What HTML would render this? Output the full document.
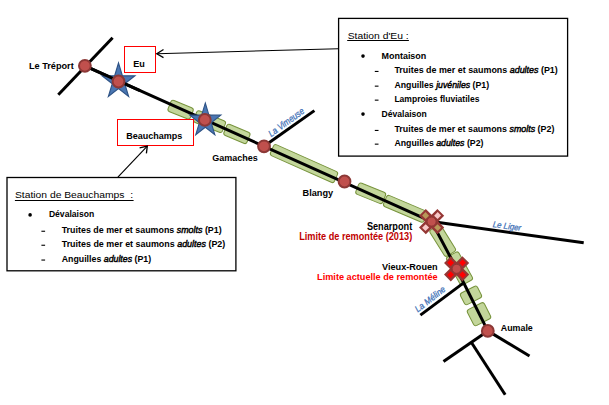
<!DOCTYPE html>
<html><head><meta charset="utf-8">
<style>
html,body{margin:0;padding:0;background:#fff;width:609px;height:405px;overflow:hidden}
svg{display:block}
.lb{font-family:"Liberation Sans",sans-serif;font-weight:bold;font-size:9.7px;fill:#000}
.it{font-family:"Liberation Sans",sans-serif;font-size:9.2px;font-weight:bold;fill:#000}
.tt{font-family:"Liberation Sans",sans-serif;font-size:9.7px;fill:#000}
.rv{font-family:"Liberation Sans",sans-serif;font-style:italic;font-size:9.4px;fill:#3d6fb6;stroke:#3d6fb6;stroke-width:0.25}
.seg{fill:#c3d69b;stroke:#77933c;stroke-width:1}
.nd{fill:#c0504d;stroke:#8c3836;stroke-width:2}
.st{fill:#4a76b2;stroke:#2e5386;stroke-width:1.2}
</style></head>
<body>
<svg width="609" height="405" viewBox="0 0 609 405">
<!-- green segments -->
<g>
  <rect class="seg" x="-12" y="-6" width="24" height="12" rx="2.5" transform="translate(180.6 109.7) rotate(22)"/>
  <rect class="seg" x="-15" y="-6.25" width="31" height="12.5" rx="2.5" transform="translate(209.1 121.4) rotate(22)"/>
  <rect class="seg" x="-12.5" y="-6" width="25" height="12" rx="2.5" transform="translate(236.9 133.9) rotate(23)"/>
  <rect class="seg" x="-35" y="-6" width="70" height="12" rx="2.5" transform="translate(304 163.6) rotate(24)"/>
  <rect class="seg" x="-14.5" y="-6" width="29" height="12" rx="2.5" transform="translate(370.7 193.3) rotate(22)"/>
  <rect class="seg" x="-22" y="-6" width="44" height="12" rx="2.5" transform="translate(405.3 208.8) rotate(23)"/>
  <rect class="seg" x="-15.5" y="-6.5" width="31" height="13" rx="2.5" transform="translate(442.7 240.6) rotate(58)"/>
  <rect class="seg" x="-16" y="-7" width="32" height="14" rx="2.5" transform="translate(459.5 268.5) rotate(61)"/>
  <rect class="seg" x="-6.5" y="-9.5" width="13" height="19" rx="2.5" transform="translate(471 295.4) rotate(63)"/>
  <rect class="seg" x="-9" y="-9.5" width="18" height="19" rx="2.5" transform="translate(479 314.2) rotate(63)"/>
</g>
<!-- tributaries -->
<g stroke="#000" stroke-width="3" stroke-linecap="butt" fill="none">
  <line x1="58.3" y1="94.8" x2="112.6" y2="37.8"/>
  <line x1="264" y1="146.3" x2="314.4" y2="110.6"/>
  <line x1="431.6" y1="221.6" x2="583.7" y2="242.8"/>
  <line x1="464.3" y1="282.4" x2="420.4" y2="315.1"/>
  <line x1="487.8" y1="330.9" x2="529.5" y2="356"/>
  <line x1="487.8" y1="330.9" x2="443.5" y2="361.5"/>
  <line x1="471.6" y1="342.7" x2="505.2" y2="394.7"/>
</g>
<!-- main river -->
<polyline points="84.9,65.8 431.6,221.6 456.6,268.8 487.8,330.9" fill="none" stroke="#000" stroke-width="3"/>
<!-- stars -->
<polygon class="st" id="star" points="0,-18.5 4.15,-5.71 17.59,-5.71 6.72,2.18 10.87,14.97 0,7.06 -10.87,14.97 -6.72,2.18 -17.59,-5.71 -4.15,-5.71" transform="translate(118.5 81.5) scale(0.93 1)"/>
<polygon class="st" points="0,-18.5 4.15,-5.71 17.59,-5.71 6.72,2.18 10.87,14.97 0,7.06 -10.87,14.97 -6.72,2.18 -17.59,-5.71 -4.15,-5.71" transform="translate(205.3 120.6) scale(0.88 0.95)"/>
<line x1="84.9" y1="65.8" x2="140" y2="90.6" stroke="#000" stroke-width="3"/>
<!-- nodes -->
<circle class="nd" cx="84.9" cy="65.8" r="5.9"/>
<circle class="nd" cx="118.5" cy="81.5" r="5.9"/>
<circle class="nd" cx="204.8" cy="119.9" r="5.9"/>
<circle class="nd" cx="264" cy="146.3" r="5.9"/>
<circle class="nd" cx="344.5" cy="181.5" r="5.9"/>
<circle class="nd" cx="487.8" cy="330.9" r="5.9"/>
<!-- crosses -->
<g transform="translate(431.6 221.6) rotate(45)">
  <path d="M-4.8,-13 H4.8 V-4.8 H13 V4.8 H4.8 V13 H-4.8 V4.8 H-13 V-4.8 H-4.8 Z" fill="#953735"/>
  <rect x="-2.4" y="-11" width="4.8" height="5" fill="#f8c8c8"/>
  <rect x="-2.4" y="6" width="4.8" height="5" fill="#f8c8c8"/>
  <rect x="-11" y="-2.4" width="5" height="4.8" fill="#b89858"/>
  <rect x="6" y="-2.4" width="5" height="4.8" fill="#b89858"/>
  <circle r="4.5" fill="#c0504d" stroke="#8a3432" stroke-width="0.8"/>
</g>
<g transform="translate(456.6 268.8) rotate(45)">
  <path d="M-4.8,-13 H4.8 V-4.8 H13 V4.8 H4.8 V13 H-4.8 V4.8 H-13 V-4.8 H-4.8 Z" fill="#953735"/>
  <rect x="-2.4" y="-11" width="4.8" height="5" fill="#ff0000"/>
  <rect x="-2.4" y="6" width="4.8" height="5" fill="#ff0000"/>
  <rect x="-11" y="-2.4" width="5" height="4.8" fill="#ff0000"/>
  <rect x="6" y="-2.4" width="5" height="4.8" fill="#ff0000"/>
  <circle r="4.5" fill="#c0504d" stroke="#8a3432" stroke-width="0.8"/>
</g>
<!-- red label boxes -->
<rect x="124.5" y="46.5" width="31" height="26" fill="#fff" stroke="#ff0000" stroke-width="1"/>
<rect x="117.5" y="119.5" width="76" height="26" fill="none" stroke="#ff0000" stroke-width="1"/>
<!-- arrows -->
<g stroke="#000" stroke-width="1.15" fill="none">
  <line x1="338.3" y1="48.7" x2="156.8" y2="53.7"/>
  <polyline points="163.5,49.5 156.8,53.7 163.5,57.6" stroke-width="1.3"/>
  <line x1="117.9" y1="177.1" x2="147.3" y2="146.2"/>
  <polyline points="139.6,147.9 147.3,146.2 146.4,153.3" stroke-width="1.3"/>
</g>
<!-- info boxes -->
<rect x="338.6" y="18.4" width="229" height="137.7" fill="#fff" stroke="#000" stroke-width="1.3"/>
<rect x="7" y="177.5" width="228.9" height="93.3" fill="#fff" stroke="#000" stroke-width="1.3"/>

<!-- labels -->
<text class="lb" x="28.9" y="68.8" textLength="44.8" lengthAdjust="spacingAndGlyphs">Le Tréport</text>
<text class="lb" x="133.3" y="67" textLength="11.6" lengthAdjust="spacingAndGlyphs">Eu</text>
<text class="lb" x="126.2" y="138.9" textLength="56.1" lengthAdjust="spacingAndGlyphs">Beauchamps</text>
<text class="lb" x="212.3" y="161" textLength="45.5" lengthAdjust="spacingAndGlyphs">Gamaches</text>
<text class="lb" x="302.6" y="196" textLength="30.6" lengthAdjust="spacingAndGlyphs">Blangy</text>
<text class="lb" x="366.9" y="230" textLength="45.3" style="font-size:10.2px" lengthAdjust="spacingAndGlyphs">Senarpont</text>
<text class="lb" x="299.2" y="240" textLength="113" lengthAdjust="spacingAndGlyphs" style="fill:#c00000;font-size:10px">Limite de remontée (2013)</text>
<text class="lb" x="382" y="270.2" textLength="55.7" style="font-size:9.7px" lengthAdjust="spacingAndGlyphs">Vieux-Rouen</text>
<text class="lb" x="317.1" y="280.2" textLength="120.6" lengthAdjust="spacingAndGlyphs" style="fill:#ff0000;font-size:9.7px">Limite actuelle de remontée</text>
<text class="lb" x="500.8" y="330.9" textLength="32" lengthAdjust="spacingAndGlyphs">Aumale</text>

<text class="rv" transform="translate(286.3 122.2) rotate(-36)" x="-21" y="3.2" textLength="42" lengthAdjust="spacingAndGlyphs">La Vimeuse</text>
<text class="rv" transform="translate(507 225.8) rotate(8)" x="-14.3" y="3.2" textLength="28.6" style="font-size:8.6px" lengthAdjust="spacingAndGlyphs">Le Liger</text>
<text class="rv" transform="translate(430.3 299.2) rotate(-38)" x="-18" y="2.8" textLength="36" style="font-size:9px" lengthAdjust="spacingAndGlyphs">La Méline</text>

<!-- Station d'Eu box content -->
<text class="tt" x="347.7" y="39" textLength="61" lengthAdjust="spacingAndGlyphs">Station d'Eu :</text>
<line x1="347.2" y1="40.5" x2="408.9" y2="40.5" stroke="#000" stroke-width="1"/>
<circle cx="363" cy="56.1" r="1.8" fill="#000"/>
<text class="it" x="381.5" y="59.1" textLength="44.8" lengthAdjust="spacingAndGlyphs">Montaison</text>
<g fill="#000">
<rect x="374.8" y="70.9" width="3.7" height="1.1"/>
<rect x="374.8" y="85.6" width="3.7" height="1.1"/>
<rect x="374.8" y="99.6" width="3.7" height="1.1"/>
<rect x="374.8" y="129.9" width="3.7" height="1.1"/>
<rect x="374.8" y="143.6" width="3.7" height="1.1"/>
</g>
<text class="it" x="394.4" y="73.3" textLength="163.4" lengthAdjust="spacingAndGlyphs">Truites de mer et saumons <tspan font-style="italic" font-weight="normal" stroke="#000" stroke-width="0.45">adultes</tspan> (P1)</text>
<text class="it" x="394.4" y="87.9" textLength="94.7" lengthAdjust="spacingAndGlyphs">Anguilles <tspan font-style="italic" font-weight="normal" stroke="#000" stroke-width="0.45">juvéniles</tspan> (P1)</text>
<text class="it" x="394.4" y="102" textLength="85" lengthAdjust="spacingAndGlyphs">Lamproies fluviatiles</text>
<circle cx="363" cy="114.1" r="1.8" fill="#000"/>
<text class="it" x="381.5" y="117" textLength="45.3" lengthAdjust="spacingAndGlyphs">Dévalaison</text>
<text class="it" x="394.4" y="131.8" textLength="160" lengthAdjust="spacingAndGlyphs">Truites de mer et saumons <tspan font-style="italic" font-weight="normal" stroke="#000" stroke-width="0.45">smolts</tspan> (P2)</text>
<text class="it" x="394.4" y="145.9" textLength="89.1" lengthAdjust="spacingAndGlyphs">Anguilles <tspan font-style="italic" font-weight="normal" stroke="#000" stroke-width="0.45">adultes</tspan> (P2)</text>

<!-- Station de Beauchamps box content -->
<text class="tt" x="14.9" y="198.2" textLength="118.2" lengthAdjust="spacingAndGlyphs" style="white-space:pre">Station de Beauchamps  :</text>
<line x1="14.9" y1="200.5" x2="133.6" y2="200.5" stroke="#000" stroke-width="1"/>
<circle cx="30.1" cy="214.9" r="1.8" fill="#000"/>
<text class="it" x="48.9" y="217.4" textLength="45.3" lengthAdjust="spacingAndGlyphs">Dévalaison</text>
<g fill="#000">
<rect x="41.4" y="230.7" width="3.7" height="1.1"/>
<rect x="41.4" y="244.7" width="3.7" height="1.1"/>
<rect x="41.4" y="259.5" width="3.7" height="1.1"/>
</g>
<text class="it" x="61.7" y="232.6" textLength="160" lengthAdjust="spacingAndGlyphs">Truites de mer et saumons <tspan font-style="italic" font-weight="normal" stroke="#000" stroke-width="0.45">smolts</tspan> (P1)</text>
<text class="it" x="61.7" y="246.8" textLength="163.6" lengthAdjust="spacingAndGlyphs">Truites de mer et saumons <tspan font-style="italic" font-weight="normal" stroke="#000" stroke-width="0.45">adultes</tspan> (P2)</text>
<text class="it" x="61.7" y="261.6" textLength="89.5" lengthAdjust="spacingAndGlyphs">Anguilles <tspan font-style="italic" font-weight="normal" stroke="#000" stroke-width="0.45">adultes</tspan> (P1)</text>
</svg>
</body></html>
